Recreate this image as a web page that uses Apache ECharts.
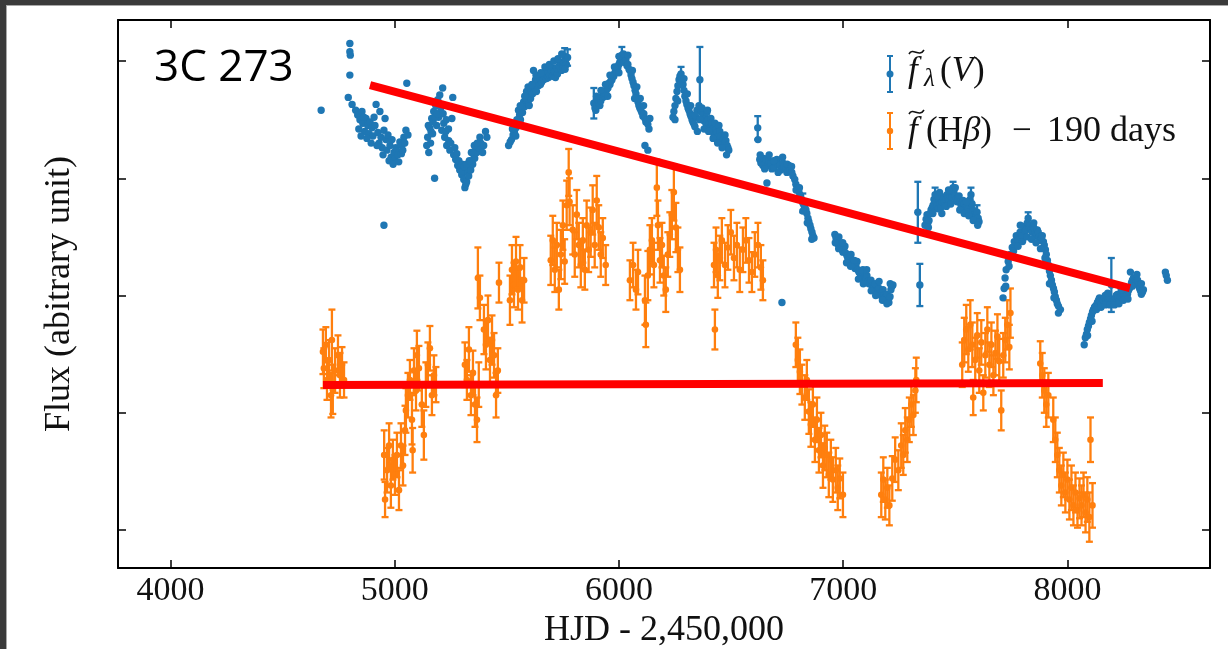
<!DOCTYPE html>
<html>
<head>
<meta charset="utf-8">
<title>3C 273 light curves</title>
<script src="https://cdn.jsdelivr.net/npm/echarts@6/dist/echarts.min.js"></script>
<style>
  html, body { margin: 0; padding: 0; background: #fff; }
  #chart { width: 1228px; height: 649px; }
</style>
</head>
<body>
<div id="chart"></div>
<script>
// Axis ticks (HJD - 2,450,000 and arbitrary flux units)
const xTicks = [4000, 5000, 6000, 7000, 8000];
const yTicks = [1, 2, 3, 4, 5];
const xRange = [3766, 8636];
const yRange = [0.676, 5.35];

// V-band continuum: [HJD - 2450000, flux, error]
const continuumV = [
  [4672,4.58,0],[4793,4.69,0],[4800,4.88,0],[4800,5.08,0],[4800,5.15,0],[4802,5.05,0],[4810,4.63,0],
  [4826,4.58,0],[4835,4.54,0],[4845,4.50,0],[4854,4.57,0],[4858,4.47,0],[4866,4.40,0],[4872,4.51,0],
  [4880,4.45,0],[4885,4.38,0],[4890,4.48,0],[4899,4.43,0],[4903,4.36,0],[4912,4.45,0],[4917,4.63,0],
  [4925,4.39,0],[4930,4.30,0],[4934,4.57,0],[4939,4.35,0],[4944,4.26,0],[4952,4.41,0],[4952,3.60,0],
  [4957,4.51,0],[4961,4.33,0],[4965,4.24,0],[4970,4.37,0],[4979,4.28,0],[4984,4.18,0],[4988,4.33,0],
  [4997,4.22,0],[5000,4.16,0],[5005,4.26,0],[5010,4.23,0],[5014,4.20,0],[5023,4.31,0],[5030,4.21,0],
  [5032,4.28,0],[5041,4.35,0],[5050,4.41,0],[5054,4.81,0],[5059,4.37,0],
  [4840,4.42,0],[4850,4.36,0],[4862,4.52,0],[4876,4.34,0],[4895,4.30,0],[4908,4.52,0],[4921,4.28,0],
  [4948,4.20,0],[4975,4.15,0],[4993,4.12,0],[5018,4.14,0],[5036,4.24,0],[5045,4.30,0],

  [5143,4.28,0],[5147,4.35,0],[5152,4.22,0],[5156,4.43,0],[5160,4.30,0],[5165,4.51,0],[5169,4.38,0],
  [5174,4.57,0],[5178,4.00,0],[5183,4.62,0],[5187,4.45,0],[5192,4.67,0],[5196,4.52,0],[5201,4.71,0],
  [5210,4.41,0],[5214,4.77,0],[5219,4.47,0],[5223,4.35,0],[5228,4.40,0],[5232,4.28,0],[5241,4.32,0],
  [5246,4.24,0],[5255,4.51,0],[5259,4.69,0],[5263,4.20,0],[5268,4.26,0],[5272,4.16,0],[5277,4.21,0],
  [5281,4.11,0],[5286,4.15,0],[5290,4.07,0],[5295,4.10,0],[5299,4.03,0],[5304,4.06,0],[5308,3.99,0],
  [5313,3.92,0],[5317,3.95,0],[5321,3.97,0],[5326,4.05,0],[5330,4.02,0],[5335,4.10,0],[5339,4.07,0],
  [5344,4.15,0],[5348,4.12,0],[5353,4.20,0],[5357,4.17,0],[5362,4.25,0],[5366,4.22,0],[5375,4.26,0],
  [5384,4.30,0],[5397,4.28,0],[5411,4.35,0],
  [5150,4.45,0],[5162,4.40,0],[5171,4.48,0],[5180,4.52,0],[5190,4.55,0],[5205,4.60,0],[5216,4.55,0],
  [5230,4.50,0],[5240,4.42,0],[5250,4.30,0],[5300,4.12,0],[5310,4.10,0],[5320,4.12,0],[5333,4.15,0],
  [5342,4.22,0],[5355,4.28,0],[5368,4.30,0],[5380,4.35,0],[5392,4.22,0],[5405,4.40,0],

  [5508,4.28,0],[5515,4.31,0],[5521,4.33,0],[5528,4.37,0],[5534,4.39,0],[5541,4.43,0],[5548,4.45,0],
  [5552,4.58,0],[5557,4.54,0],[5561,4.50,0],[5566,4.60,0],[5570,4.56,0],[5575,4.65,0],[5579,4.61,0],
  [5584,4.68,0],[5588,4.74,0],[5592,4.67,0],[5597,4.63,0],[5601,4.71,0],[5606,4.68,0],[5610,4.75,0],
  [5615,4.72,0],[5619,4.92,0],[5623,4.77,0],[5628,4.84,0],[5632,4.74,0],[5637,4.82,0],[5641,4.79,0],
  [5646,4.86,0],[5650,4.80,0],[5655,4.82,0],[5660,4.88,0],[5664,4.84,0],[5668,4.87,0],[5673,4.92,0],
  [5677,4.85,0],[5681,4.91,0],[5686,4.86,0],[5690,4.88,0],[5695,4.95,0],[5699,4.92,0],[5704,4.87,0],
  [5708,4.94,0],[5713,4.91,0],[5717,4.86,0],[5722,4.94,0],[5726,4.89,0],[5731,4.93,0],[5735,4.96,0],
  [5740,4.99,0],[5744,4.92,0],[5749,4.95,0],[5753,4.99,0],[5758,5.04,0.07],[5762,5.01,0],[5766,4.97,0],
  [5771,5.03,0.07],
  [5525,4.42,0],[5545,4.50,0],[5560,4.62,0],[5580,4.70,0],[5595,4.78,0],[5612,4.80,0],[5630,4.88,0],
  [5652,4.90,0],[5670,4.95,0],[5690,4.97,0],[5710,5.00,0],[5728,5.02,0],[5745,5.06,0],[5760,4.93,0],
  [5540,4.36,0],[5600,4.62,0],

  [5888,4.64,0.13],[5893,4.60,0],[5897,4.58,0],[5902,4.62,0],[5906,4.67,0],[5910,4.64,0],[5915,4.62,0],
  [5919,4.66,0],[5924,4.70,0],[5928,4.69,0],[5933,4.73,0],[5937,4.70,0],[5942,4.72,0],[5946,4.76,0],
  [5951,4.77,0],[5955,4.81,0],[5960,4.80,0],[5964,4.83,0],[5969,4.84,0],[5973,4.88,0],[5977,4.87,0],
  [5982,4.90,0],[5986,4.91,0],[5991,4.95,0],[5995,4.94,0],[6000,4.97,0],[6004,4.99,0],[6009,5.02,0],
  [6013,5.05,0.07],[6018,5.01,0],[6022,4.99,0],[6027,5.03,0],[6031,5.01,0],[6036,4.96,0],[6040,4.97,0],
  [6045,4.93,0],[6049,4.92,0],[6054,4.88,0],[6058,4.85,0],[6063,4.82,0],[6067,4.79,0],[6072,4.75,0],
  [6076,4.72,0],[6081,4.68,0],[6085,4.65,0],[6089,4.62,0],[6093,4.60,0],[6098,4.58,0],[6102,4.56,0],
  [6107,4.53,0],[6111,4.55,0],[6116,4.51,0],[6116,4.28,0],[6120,4.48,0],[6125,4.50,0],[6129,4.46,0],
  [6129,4.24,0],[6134,4.42,0],[6138,4.51,0],
  [5900,4.70,0],[5920,4.75,0],[5940,4.80,0],[5960,4.88,0],[5980,4.95,0],[6000,5.04,0],[6020,5.06,0],
  [6040,5.05,0],[6060,4.92,0],[6080,4.78,0],[6095,4.68,0],[6110,4.62,0],[5950,4.70,0],[6000,4.90,0],
  [6070,4.68,0],

  [6241,4.52,0],[6245,4.57,0],[6250,4.62,0],[6254,4.68,0],[6259,4.74,0],[6263,4.79,0],[6268,4.84,0],
  [6272,4.87,0],[6277,4.89,0.06],[6281,4.85,0],[6286,4.80,0],[6290,4.75,0],[6294,4.70,0],[6299,4.66,0],
  [6303,4.63,0],[6308,4.60,0],[6312,4.58,0],[6317,4.55,0],[6321,4.53,0],[6326,4.50,0],[6330,4.48,0],
  [6335,4.46,0],[6339,4.44,0],[6344,4.52,0],[6348,4.58,0],[6357,4.62,0],[6361,4.84,0.28],[6366,4.57,0],
  [6370,4.60,0],[6374,4.54,0],[6379,4.49,0],[6383,4.51,0],[6388,4.47,0],[6392,4.56,0],[6397,4.50,0],
  [6401,4.46,0],[6406,4.43,0],[6410,4.51,0],[6414,4.47,0],[6419,4.42,0],[6423,4.38,0],[6428,4.47,0],
  [6432,4.41,0],[6437,4.39,0],[6441,4.35,0],[6446,4.45,0],[6450,4.40,0],[6455,4.36,0],[6459,4.31,0],
  [6464,4.33,0],[6468,4.29,0],[6473,4.37,0],[6477,4.32,0],[6482,4.28,0],[6486,4.26,0],[6490,4.24,0],
  [6250,4.50,0],[6262,4.66,0],[6275,4.80,0],[6290,4.85,0],[6305,4.72,0],[6320,4.62,0],[6340,4.54,0],
  [6360,4.50,0],[6380,4.42,0],[6400,4.40,0],[6420,4.34,0],[6440,4.30,0],[6460,4.26,0],[6480,4.20,0],
  [6395,4.58,0],[6350,4.40,0],

  [6619,4.43,0.10],[6620,4.33,0],[6628,4.16,0],[6633,4.13,0],[6642,4.11,0],[6646,4.17,0],[6655,4.16,0],
  [6660,3.96,0],[6664,4.11,0],[6668,4.15,0],[6677,4.13,0],[6682,4.08,0],[6691,4.09,0],[6695,4.14,0],
  [6704,4.16,0],[6708,4.12,0],[6717,4.11,0],[6722,4.07,0],[6727,2.94,0],[6731,4.13,0],[6735,4.10,0],
  [6744,4.09,0],[6749,4.05,0],[6758,4.11,0],[6762,4.07,0],[6771,4.05,0],[6776,4.02,0],[6784,3.99,0],
  [6789,3.95,0],[6798,3.92,0],[6802,3.89,0],[6807,3.86,0],[6811,3.84,0],[6816,3.81,0],[6820,3.79,0.08],
  [6825,3.77,0],[6829,3.75,0],[6834,3.73,0],[6838,3.70,0],[6843,3.66,0],[6847,3.63,0],[6852,3.60,0],
  [6856,3.57,0],[6861,3.54,0],[6865,3.51,0],[6870,3.49,0],
  [6630,4.20,0],[6650,4.08,0],[6670,4.20,0],[6690,4.15,0],[6710,4.05,0],[6730,4.18,0],[6750,4.12,0],
  [6770,4.10,0],[6790,3.90,0],[6805,3.92,0],[6820,3.72,0],[6840,3.62,0],[6860,3.48,0],

  [6963,3.52,0],[6968,3.49,0],[6972,3.46,0],[6976,3.44,0],[6981,3.50,0],[6985,3.43,0],[6990,3.41,0],
  [6994,3.39,0],[6999,3.37,0],[7003,3.40,0],[7008,3.42,0],[7012,3.36,0],[7017,3.34,0],[7021,3.32,0],
  [7026,3.30,0],[7030,3.33,0],[7035,3.35,0],[7039,3.29,0],[7044,3.27,0],[7048,3.25,0],[7053,3.23,0],
  [7057,3.26,0],[7062,3.29,0],[7066,3.22,0],[7070,3.20,0],[7075,3.19,0],[7079,3.17,0],[7084,3.20,0],
  [7088,3.22,0],[7093,3.15,0],[7097,3.13,0],[7102,3.15,0],[7106,3.17,0],[7111,3.12,0],[7115,3.10,0],
  [7120,3.11,0],[7124,3.13,0],[7129,3.08,0],[7133,3.06,0],[7138,3.08,0],[7142,3.10,0],[7147,3.04,0],
  [7151,3.02,0],[7156,3.05,0],[7160,3.06,0],[7165,3.02,0],[7169,3.00,0],[7173,3.03,0],[7178,3.05,0],
  [7182,3.00,0],[7186,2.98,0],[7191,2.99,0],[7195,3.01,0],[7200,2.96,0],[7204,2.94,0],[7209,2.99,0],
  [7213,3.05,0],[7218,3.08,0],[7222,3.09,0],
  [6965,3.45,0],[6980,3.40,0],[6998,3.45,0],[7015,3.28,0],[7033,3.25,0],[7050,3.30,0],[7068,3.14,0],
  [7090,3.10,0],[7105,3.22,0],[7125,3.04,0],[7145,3.00,0],[7160,3.12,0],[7175,2.96,0],[7195,2.93,0],
  [7210,3.10,0],

  [7333,3.71,0.26],[7342,3.09,0.18],

  [7365,3.60,0],[7370,3.65,0],[7374,3.69,0],[7378,3.62,0],[7383,3.64,0],[7388,3.70,0],[7392,3.73,0],
  [7397,3.75,0],[7401,3.77,0],[7405,3.82,0],[7410,3.86,0.06],[7414,3.80,0],[7419,3.77,0],[7423,3.74,0],
  [7428,3.81,0],[7432,3.78,0],[7436,3.75,0],[7441,3.80,0],[7445,3.84,0],[7450,3.79,0],[7454,3.77,0],
  [7459,3.82,0],[7463,3.86,0],[7468,3.83,0],[7472,3.81,0],[7477,3.85,0],[7481,3.88,0],[7486,3.84,0],
  [7490,3.92,0.05],[7494,3.88,0],[7499,3.85,0],[7503,3.82,0],[7508,3.80,0],[7512,3.83,0],[7517,3.85,0],
  [7521,3.80,0],[7526,3.77,0],[7530,3.79,0],[7535,3.81,0],[7539,3.78,0],[7544,3.75,0],[7548,3.73,0],
  [7553,3.71,0],[7557,3.74,0],[7561,3.77,0],[7566,3.82,0],[7570,3.86,0.06],[7575,3.78,0],[7579,3.73,0],
  [7584,3.69,0],[7588,3.66,0],[7593,3.68,0],[7597,3.71,0.06],[7602,3.66,0],[7606,3.63,0],
  [7380,3.58,0],[7400,3.70,0],[7420,3.85,0],[7440,3.70,0],[7460,3.76,0],[7480,3.78,0],[7500,3.92,0],
  [7520,3.73,0],[7540,3.70,0],[7560,3.68,0],[7580,3.64,0],[7600,3.60,0],[7470,3.90,0],[7430,3.88,0],
  [7550,3.80,0],

  [7713,2.98,0],[7718,3.06,0],[7722,3.15,0],[7727,3.22,0],[7736,3.29,0],[7745,3.35,0],[7754,3.41,0],
  [7763,3.46,0],[7772,3.51,0],[7780,3.47,0],[7789,3.54,0],[7798,3.51,0],[7807,3.59,0],[7812,3.55,0],
  [7816,3.56,0],[7821,3.62,0],[7825,3.66,0.05],[7830,3.58,0],[7834,3.60,0],[7839,3.56,0],[7843,3.54,0],
  [7848,3.59,0],[7852,3.57,0],[7857,3.53,0],[7861,3.51,0],[7866,3.56,0],[7870,3.54,0],[7875,3.50,0],
  [7879,3.47,0],[7884,3.49,0],[7888,3.51,0],[7893,3.46,0],[7897,3.43,0],[7902,3.39,0],[7906,3.35,0],
  [7911,3.30,0],[7915,3.26,0],[7920,3.21,0],[7924,3.17,0],[7929,3.13,0],[7933,3.09,0],[7938,3.06,0],
  [7942,3.03,0],[7946,2.99,0],[7951,2.96,0],[7955,2.93,0],[7960,2.91,0],[7969,2.88,0],
  [7725,3.08,0],[7740,3.25,0],[7760,3.38,0],[7780,3.42,0],[7800,3.46,0],[7820,3.50,0],[7840,3.48,0],
  [7860,3.45,0],[7880,3.40,0],[7900,3.32,0],[7920,3.10,0],[7940,2.98,0],[7960,2.85,0],[7790,3.60,0],
  [7850,3.62,0],

  [8075,2.58,0],[8080,2.64,0],[8085,2.67,0],[8089,2.71,0],[8094,2.74,0],[8098,2.77,0],[8103,2.80,0],
  [8107,2.83,0],[8112,2.86,0],[8116,2.88,0],[8121,2.90,0],[8125,2.91,0],[8130,2.92,0],[8134,2.94,0],
  [8139,2.96,0],[8143,2.98,0],[8147,2.95,0],[8152,2.93,0],[8156,2.97,0],[8160,2.96,0],[8165,2.98,0],
  [8169,3.00,0],[8174,2.96,0],[8178,2.94,0],[8183,2.97,0],[8187,2.98,0],[8196,3.09,0.23],[8200,2.95,0],
  [8205,2.93,0],[8209,2.96,0],[8214,2.98,0],[8218,3.00,0],[8223,3.01,0],[8227,2.98,0],[8232,2.96,0],
  [8236,2.99,0],[8241,3.00,0],[8245,3.02,0],[8250,3.03,0],[8254,3.00,0],[8259,2.98,0],[8263,3.00,0],
  [8268,3.01,0],[8272,3.04,0],[8277,3.06,0],[8281,3.20,0],[8286,3.11,0],[8290,3.13,0],[8295,3.15,0],
  [8299,3.12,0],[8304,3.10,0],[8308,3.12,0],[8313,3.13,0],[8317,3.09,0],[8322,3.06,0],[8326,3.04,0],
  [8330,3.01,0],[8335,3.03,0],[8339,3.05,0],
  [8090,2.66,0],[8110,2.78,0],[8130,2.88,0],[8150,2.90,0],[8170,2.92,0],[8190,2.92,0],[8210,2.92,0],
  [8230,2.93,0],[8250,2.96,0],[8270,2.97,0],[8290,3.08,0],[8310,3.18,0],[8330,3.10,0],[8180,3.02,0],
  [8240,3.05,0],

  [8437,3.20,0],[8441,3.17,0],[8446,3.13,0]
];

// H-beta line flux shifted by -190 days: [HJD - 2450000, flux, error]
const hbetaShifted = [
  [4680,2.52,0.19],[4684,2.38,0.17],[4693,2.58,0.15],[4698,2.28,0.17],[4707,2.45,0.17],[4716,2.15,0.19],
  [4720,2.62,0.26],[4724,2.20,0.21],[4734,2.36,0.19],[4747,2.49,0.17],[4756,2.32,0.19],[4765,2.41,0.15],
  [4774,2.28,0.15],

  [4953,1.64,0.21],[4957,1.26,0.15],[4966,1.51,0.19],[4975,1.72,0.19],[4983,1.38,0.19],[4992,1.60,0.17],
  [5001,1.47,0.17],[5010,1.64,0.19],[5019,1.34,0.17],[5028,1.72,0.19],[5037,1.55,0.17],[5046,1.85,0.21],

  [5050,2.02,0.19],[5059,2.15,0.19],[5068,2.28,0.17],[5077,1.94,0.21],[5080,1.68,0.19],[5086,2.36,0.19],
  [5095,2.19,0.17],[5099,2.49,0.21],[5108,2.38,0.19],[5121,2.07,0.19],[5130,1.81,0.21],[5139,2.24,0.19],
  [5148,2.41,0.19],[5157,2.55,0.19],[5166,2.15,0.17],[5175,2.32,0.17],[5184,2.24,0.15],

  [5313,2.41,0.19],[5322,2.28,0.17],[5331,2.54,0.19],[5340,2.15,0.17],[5349,2.34,0.19],[5358,2.07,0.19],
  [5367,1.94,0.19],[5371,3.15,0.26],[5375,2.24,0.19],[5380,2.98,0.19],[5398,2.71,0.21],[5407,2.58,0.21],
  [5416,2.79,0.21],[5425,2.45,0.19],[5434,2.62,0.21],[5443,2.49,0.19],[5452,2.15,0.19],[5460,2.36,0.19],
  [5465,3.11,0.17],

  [5514,2.96,0.21],[5523,3.22,0.21],[5532,3.09,0.19],[5541,3.29,0.21],[5550,3.05,0.17],[5559,3.24,0.19],
  [5568,2.96,0.19],[5577,3.13,0.19],

  [5696,3.30,0.21],[5705,3.47,0.21],[5714,3.22,0.19],[5723,3.43,0.19],[5732,3.05,0.17],[5741,3.35,0.21],
  [5750,3.60,0.21],[5758,3.29,0.19],[5767,3.77,0.21],[5776,4.05,0.20],[5780,3.80,0.20],[5794,3.56,0.21],
  [5803,3.35,0.19],[5812,3.69,0.21],[5821,3.43,0.19],[5830,3.26,0.19],[5839,3.47,0.19],[5848,3.22,0.17],
  [5856,3.60,0.21],[5865,3.39,0.19],[5874,3.54,0.21],[5883,3.73,0.21],[5892,3.43,0.19],[5901,3.81,0.21],
  [5910,3.58,0.19],[5919,3.35,0.19],[5928,3.49,0.17],[5941,3.26,0.17],

  [6049,3.13,0.17],[6063,3.26,0.19],[6076,3.05,0.17],[6085,3.20,0.19],[6116,2.96,0.21],[6120,2.75,0.19],
  [6129,3.17,0.21],[6138,3.39,0.21],[6147,3.47,0.19],[6156,3.26,0.19],[6169,3.92,0.24],[6174,3.60,0.21],
  [6183,3.30,0.19],[6192,3.43,0.19],[6200,3.17,0.17],[6209,3.05,0.19],[6218,3.35,0.19],[6227,3.52,0.19],
  [6236,3.69,0.21],[6245,3.88,0.24],[6254,3.58,0.21],[6263,3.39,0.19],[6272,3.22,0.19],

  [6424,3.26,0.19],[6428,2.71,0.17],[6433,3.39,0.19],[6441,3.17,0.19],[6450,3.32,0.19],[6459,3.47,0.19],
  [6473,3.26,0.19],[6486,3.41,0.19],[6499,3.54,0.19],[6513,3.32,0.19],[6526,3.43,0.19],[6539,3.22,0.19],
  [6553,3.39,0.19],[6566,3.47,0.19],[6580,3.30,0.19],[6593,3.20,0.17],[6606,3.35,0.19],[6620,3.43,0.19],
  [6633,3.24,0.19],[6642,3.13,0.17],

  [6789,2.58,0.19],[6798,2.45,0.19],[6807,2.35,0.19],[6816,2.24,0.17],[6829,2.13,0.19],[6838,2.28,0.17],
  [6847,2.01,0.19],[6856,1.90,0.19],[6865,2.07,0.19],[6874,1.77,0.19],[6883,1.94,0.19],[6892,1.68,0.19],
  [6901,1.81,0.19],[6910,1.55,0.19],[6918,1.70,0.19],[6927,1.64,0.19],[6936,1.47,0.19],[6945,1.60,0.17],
  [6954,1.43,0.19],[6967,1.51,0.19],[6976,1.36,0.19],[6985,1.44,0.17],[6999,1.30,0.19],

  [7170,1.30,0.19],[7179,1.43,0.19],[7188,1.26,0.17],[7197,1.36,0.17],[7206,1.21,0.17],[7219,1.44,0.19],
  [7232,1.60,0.19],[7246,1.51,0.17],[7259,1.72,0.19],[7268,1.64,0.17],[7277,1.85,0.19],[7286,1.77,0.19],
  [7295,1.94,0.19],[7304,2.07,0.19],[7313,1.98,0.17],[7322,2.19,0.19],[7326,2.28,0.19],

  [7531,2.41,0.19],[7540,2.62,0.19],[7549,2.71,0.21],[7558,2.54,0.19],[7567,2.75,0.21],[7576,2.58,0.19],
  [7580,2.13,0.15],[7589,2.45,0.19],[7598,2.66,0.19],[7607,2.36,0.19],[7616,2.60,0.19],[7625,2.17,0.15],
  [7634,2.49,0.19],[7643,2.71,0.19],[7652,2.41,0.19],[7661,2.58,0.19],[7670,2.32,0.17],[7679,2.51,0.19],
  [7688,2.65,0.19],[7696,2.44,0.19],[7705,2.02,0.17],[7714,2.49,0.19],[7723,2.62,0.19],[7732,2.75,0.21],
  [7741,2.56,0.19],[7746,2.85,0.21],

  [7879,2.42,0.19],[7888,2.32,0.19],[7897,2.19,0.19],[7906,2.07,0.19],[7915,2.15,0.19],

  [7937,1.94,0.19],[7946,1.77,0.19],[7955,1.64,0.19],[7964,1.51,0.19],[7973,1.38,0.17],[7982,1.47,0.19],
  [7991,1.32,0.17],[8000,1.43,0.17],[8009,1.26,0.17],[8018,1.36,0.19],[8027,1.21,0.17],[8036,1.32,0.17],
  [8045,1.17,0.15],[8054,1.27,0.17],[8063,1.21,0.17],[8072,1.30,0.19],[8081,1.15,0.17],[8089,1.26,0.19],
  [8098,1.11,0.21],[8103,1.77,0.19],[8112,1.21,0.19]
];

// Overplotted trend lines
const trendUpper = [[4890, 4.795], [8279, 3.064]];
const trendLower = [[4680, 2.237], [8158, 2.254]];

const BLUE = '#1f77b4';
const ORANGE = '#ff7f0e';
const SERIF = '"Liberation Serif", "DejaVu Serif", serif';

function errorBarRenderer(color, radius, capHalf, barWidth) {
  return function (params, api) {
    const x = api.value(0), y = api.value(1), e = api.value(2);
    const p = api.coord([x, y]);
    const kids = [];
    if (e > 0) {
      const hi = api.coord([x, y + e]);
      const lo = api.coord([x, y - e]);
      const st = { stroke: color, lineWidth: barWidth };
      kids.push({ type: 'line', shape: { x1: p[0], y1: hi[1], x2: p[0], y2: lo[1] }, style: st });
      kids.push({ type: 'line', shape: { x1: p[0] - capHalf, y1: hi[1], x2: p[0] + capHalf, y2: hi[1] }, style: st });
      kids.push({ type: 'line', shape: { x1: p[0] - capHalf, y1: lo[1], x2: p[0] + capHalf, y2: lo[1] }, style: st });
    }
    kids.push({ type: 'circle', shape: { cx: p[0], cy: p[1], r: radius }, style: { fill: color } });
    return { type: 'group', children: kids };
  };
}

function legendMarker(color, cx, cy, half, r) {
  const st = { stroke: color, lineWidth: 2 };
  return [
    { type: 'line', shape: { x1: cx, y1: cy - half, x2: cx, y2: cy + half }, style: st },
    { type: 'line', shape: { x1: cx - 3, y1: cy - half, x2: cx + 3, y2: cy - half }, style: st },
    { type: 'line', shape: { x1: cx - 3, y1: cy + half, x2: cx + 3, y2: cy + half }, style: st },
    { type: 'circle', shape: { cx: cx, cy: cy, r: r }, style: { fill: color } }
  ];
}

function tilde(x, y) {
  return {
    type: 'bezierCurve',
    shape: { x1: x, y1: y + 4, cpx1: x + 4, cpy1: y - 3, cpx2: x + 10, cpy2: y + 8, x2: x + 15, y2: y },
    style: { stroke: '#111', lineWidth: 1.6, fill: null }
  };
}

function txt(x, y, text, size, extra) {
  return {
    type: 'text', x: x, y: y,
    style: Object.assign({ text: text, fontFamily: SERIF, fontSize: size, fill: '#111',
      verticalAlign: 'middle', align: 'left' }, extra || {})
  };
}

const chart = echarts.init(document.getElementById('chart'), null, { renderer: 'canvas' });

const tickCommon = { show: true, inside: true, length: 8, lineStyle: { color: '#000', width: 1.5 } };
const lineCommon = { show: true, onZero: false, lineStyle: { color: '#000', width: 2 } };

chart.setOption({
  animation: false,
  backgroundColor: '#fff',
  grid: { left: 118, right: 18, top: 20, bottom: 81, containLabel: false, outerBoundsMode: 'none' },
  xAxis: [
    {
      type: 'value', min: xRange[0], max: xRange[1], position: 'bottom',
      axisLine: lineCommon,
      axisTick: Object.assign({ customValues: xTicks }, tickCommon),
      axisLabel: { customValues: xTicks, formatter: v => String(v), fontFamily: SERIF, fontSize: 34,
        color: '#111', margin: 6 },
      splitLine: { show: false },
      name: 'HJD - 2,450,000', nameLocation: 'middle', nameGap: 44,
      nameTextStyle: { fontFamily: SERIF, fontSize: 36, color: '#111' }
    },
    {
      type: 'value', min: xRange[0], max: xRange[1], position: 'top',
      axisLine: lineCommon,
      axisTick: Object.assign({ customValues: xTicks }, tickCommon),
      axisLabel: { show: false }, splitLine: { show: false }
    }
  ],
  yAxis: [
    {
      type: 'value', min: yRange[0], max: yRange[1], position: 'left',
      axisLine: lineCommon,
      axisTick: Object.assign({ customValues: yTicks }, tickCommon),
      axisLabel: { show: false }, splitLine: { show: false },
      name: 'Flux (abitrary unit)', nameLocation: 'middle', nameGap: 40,
      nameTextStyle: { fontFamily: SERIF, fontSize: 36, color: '#111' }
    },
    {
      type: 'value', min: yRange[0], max: yRange[1], position: 'right',
      axisLine: lineCommon,
      axisTick: Object.assign({ customValues: yTicks }, tickCommon),
      axisLabel: { show: false }, splitLine: { show: false }
    }
  ],
  series: [
    {
      name: 'Hbeta', type: 'custom', xAxisIndex: 0, yAxisIndex: 0,
      renderItem: errorBarRenderer(ORANGE, 3.3, 3.5, 2.3),
      encode: { x: 0, y: 1 }, data: hbetaShifted, silent: true, z: 2
    },
    {
      name: 'V', type: 'custom', xAxisIndex: 0, yAxisIndex: 0,
      renderItem: errorBarRenderer(BLUE, 3.7, 3.5, 2.3),
      encode: { x: 0, y: 1 }, data: continuumV, silent: true, z: 3
    },
    {
      type: 'line', data: trendUpper, symbol: 'none', silent: true, z: 5,
      lineStyle: { color: '#ff0000', width: 8, cap: 'butt' }
    },
    {
      type: 'line', data: trendLower, symbol: 'none', silent: true, z: 5,
      lineStyle: { color: '#ff0000', width: 8, cap: 'butt' }
    }
  ],
  graphic: [
    // dark frame around the panel
    { type: 'rect', shape: { x: 0, y: 0, width: 1228, height: 5 }, style: { fill: '#3a3a3a' }, z: 100 },
    { type: 'rect', shape: { x: 0, y: 0, width: 6, height: 649 }, style: { fill: '#3a3a3a' }, z: 100 },
    { type: 'rect', shape: { x: 6, y: 5, width: 1222, height: 1 }, style: { fill: '#a8a8a8' }, z: 100 },
    { type: 'rect', shape: { x: 6, y: 5, width: 1, height: 644 }, style: { fill: '#a8a8a8' }, z: 100 },

    // object name
    { type: 'text', x: 154, y: 68, z: 50,
      style: { text: '3C 273', fontFamily: '"Open Sans", "Noto Sans", sans-serif', fontSize: 44,
        fill: '#000', verticalAlign: 'middle', align: 'left' } },

    // legend
    { type: 'group', z: 50, children: [
      ...legendMarker(BLUE, 890, 74, 18, 3.5),
      ...legendMarker(ORANGE, 890, 131, 18, 3.2),
      tilde(909, 50),
      txt(908, 72, 'f', 35, { fontStyle: 'italic' }),
      txt(924, 79, 'λ', 25, { fontStyle: 'italic' }),
      { type: 'text', x: 940, y: 72, style: {
          text: '{n|(}{i|V}{n|)}', verticalAlign: 'middle', align: 'left',
          rich: { n: { fontFamily: SERIF, fontSize: 35, fill: '#111' },
                  i: { fontFamily: SERIF, fontSize: 35, fontStyle: 'italic', fill: '#111' } } } },
      tilde(909, 110),
      txt(908, 132, 'f', 35, { fontStyle: 'italic' }),
      { type: 'text', x: 926, y: 132, style: {
          text: '{n|(H}{i|β}{n|)}', verticalAlign: 'middle', align: 'left',
          rich: { n: { fontFamily: SERIF, fontSize: 35, fill: '#111' },
                  i: { fontFamily: SERIF, fontSize: 35, fontStyle: 'italic', fill: '#111' } } } },
      txt(1012, 132, '−', 35),
      txt(1047, 132, '190 days', 36)
    ] }
  ]
});
</script>
</body>
</html>
